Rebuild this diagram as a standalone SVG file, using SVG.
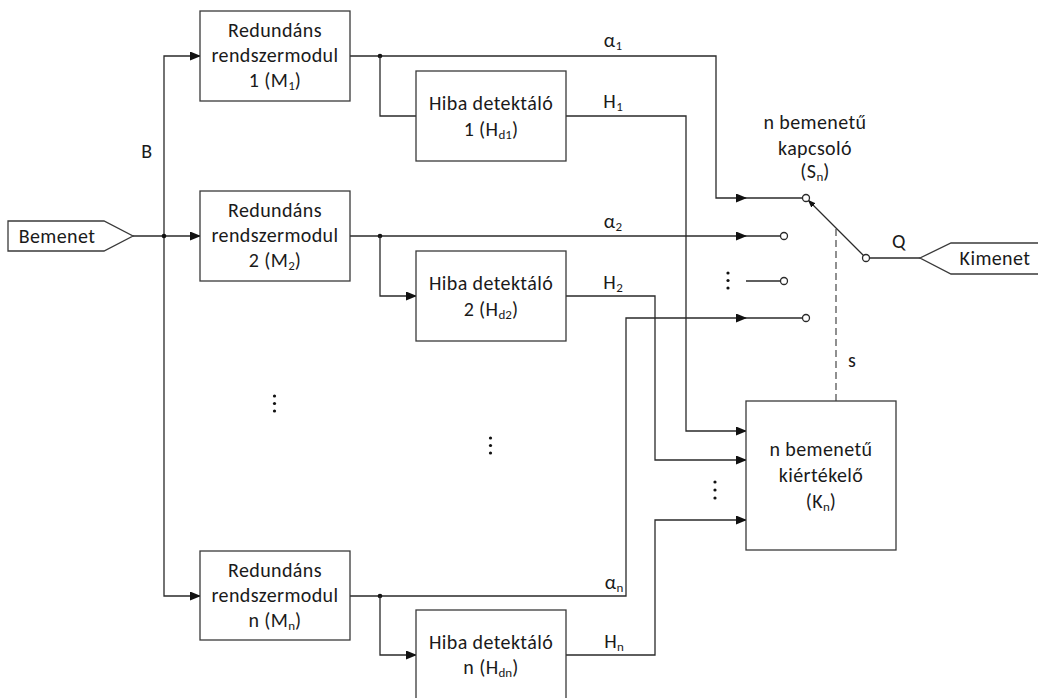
<svg xmlns="http://www.w3.org/2000/svg" width="1038" height="698" viewBox="0 0 1038 698">
  <style>
    text { font-family: Carlito, Lato, "Liberation Sans", sans-serif; font-size: 20px; letter-spacing: 0.4px; fill: #1a1a1a; }
    .c { text-anchor: middle; }
    .sub { font-size: 13px; letter-spacing: 0; }
    .box { fill: #fff; stroke: #3a3a3a; stroke-width: 1.3; }
    .wire { fill: none; stroke: #2a2a2a; stroke-width: 1.3; }
    .arrow { marker-end: url(#ah); }
    .dot { fill: #111; }
    .term { fill: #fff; stroke: #2a2a2a; stroke-width: 1.3; }
    .dash { fill: none; stroke: #555; stroke-width: 1.3; stroke-dasharray: 7 4; }
  </style>
  <defs>
    <marker id="ah" markerUnits="userSpaceOnUse" markerWidth="11" markerHeight="9" refX="10" refY="4.5" orient="auto">
      <path d="M0,0 L11,4.5 L0,9 Z" fill="#111"/>
    </marker>
    <marker id="ahs" markerUnits="userSpaceOnUse" markerWidth="8" markerHeight="6" refX="7" refY="3" orient="auto">
      <path d="M0,0 L8,3 L0,6 Z" fill="#111"/>
    </marker>
  </defs>

  <!-- connectors -->
  <g id="connectors">
    <!-- input distribution bus B -->
    <path class="wire arrow" d="M133,236 H200"/>
    <path class="wire arrow" d="M164,236 V56 H200"/>
    <path class="wire arrow" d="M164,236 V596 H200"/>
    <circle class="dot" cx="164" cy="236" r="2.3"/>

    <!-- module 1 -->
    <path class="wire arrow" d="M350,56 H716 V198 H746"/>
    <path class="wire" d="M745,198 H802.5"/>
    <circle class="dot" cx="380" cy="56" r="2.3"/>
    <path class="wire" d="M380,56 V116 H416"/>
    <path class="wire arrow" d="M566,116 H686 V431 H746"/>

    <!-- module 2 -->
    <path class="wire arrow" d="M350,236 H746"/>
    <path class="wire" d="M745,236 H780.5"/>
    <circle class="dot" cx="380" cy="236" r="2.3"/>
    <path class="wire arrow" d="M380,236 V296 H416"/>
    <path class="wire arrow" d="M566,296 H655 V460 H746"/>

    <!-- module n -->
    <path class="wire arrow" d="M350,596 H626 V318 H746"/>
    <path class="wire" d="M745,318 H802.5"/>
    <circle class="dot" cx="380" cy="596" r="2.3"/>
    <path class="wire arrow" d="M380,596 V655 H416"/>
    <path class="wire arrow" d="M566,655 H655 V520 H746"/>

    <!-- elided switch input -->
    <path class="wire" d="M746,281 H780.5"/>

    <!-- switch output -->
    <path class="wire" d="M869.5,258 H920"/>

    <!-- selector control s -->
    <path class="dash" d="M836,229 V401"/>
  </g>

  <!-- elision dots -->
  <g id="ellipses">
    <circle class="dot" cx="274.5" cy="396" r="1.6"/>
    <circle class="dot" cx="274.5" cy="403.5" r="1.6"/>
    <circle class="dot" cx="274.5" cy="411" r="1.6"/>
    <circle class="dot" cx="490.5" cy="438" r="1.6"/>
    <circle class="dot" cx="490.5" cy="445.5" r="1.6"/>
    <circle class="dot" cx="490.5" cy="453" r="1.6"/>
    <circle class="dot" cx="728" cy="273" r="1.6"/>
    <circle class="dot" cx="728" cy="280.5" r="1.6"/>
    <circle class="dot" cx="728" cy="288" r="1.6"/>
    <circle class="dot" cx="715" cy="482" r="1.6"/>
    <circle class="dot" cx="715" cy="490" r="1.6"/>
    <circle class="dot" cx="715" cy="498" r="1.6"/>
  </g>

  <!-- signal labels -->
  <g id="labels">
    <text class="c" x="147" y="158">B</text>
    <text class="c" x="613" y="47">α<tspan class="sub" dy="3">1</tspan></text>
    <text class="c" x="613" y="108">H<tspan class="sub" dy="3">1</tspan></text>
    <text class="c" x="613" y="228">α<tspan class="sub" dy="3">2</tspan></text>
    <text class="c" x="613" y="289">H<tspan class="sub" dy="3">2</tspan></text>
    <text class="c" x="614" y="589">α<tspan class="sub" dy="3">n</tspan></text>
    <text class="c" x="614" y="648">H<tspan class="sub" dy="3">n</tspan></text>
    <text class="c" x="899" y="248">Q</text>
    <text class="c" x="852" y="367">s</text>
  </g>

  <g id="input">
    <path class="box" d="M8,221 H104 L133,236 L104,251 H8 Z"/>
    <text class="c" x="57" y="243">Bemenet</text>
  </g>

  <g id="output">
    <path class="box" d="M1045,243 H951 L920,258 L951,274 H1045"/>
    <text class="c" x="995" y="265">Kimenet</text>
  </g>

  <g id="M1">
    <rect class="box" x="200" y="11" width="150" height="90"/>
    <text class="c" x="275" y="37">Redundáns</text>
    <text class="c" x="275" y="62">rendszermodul</text>
    <text class="c" x="275" y="87">1 (M<tspan class="sub" dy="3">1</tspan><tspan dy="-3">)</tspan></text>
  </g>

  <g id="M2">
    <rect class="box" x="200" y="191" width="150" height="90"/>
    <text class="c" x="275" y="217">Redundáns</text>
    <text class="c" x="275" y="242">rendszermodul</text>
    <text class="c" x="275" y="267">2 (M<tspan class="sub" dy="3">2</tspan><tspan dy="-3">)</tspan></text>
  </g>

  <g id="Mn">
    <rect class="box" x="200" y="551" width="150" height="89"/>
    <text class="c" x="275" y="577">Redundáns</text>
    <text class="c" x="275" y="602">rendszermodul</text>
    <text class="c" x="275" y="627">n (M<tspan class="sub" dy="3">n</tspan><tspan dy="-3">)</tspan></text>
  </g>

  <g id="Hd1">
    <rect class="box" x="416" y="71" width="150" height="90"/>
    <text class="c" x="491" y="110">Hiba detektáló</text>
    <text class="c" x="491" y="136">1 (H<tspan class="sub" dy="3">d1</tspan><tspan dy="-3">)</tspan></text>
  </g>

  <g id="Hd2">
    <rect class="box" x="416" y="251" width="150" height="90"/>
    <text class="c" x="491" y="290">Hiba detektáló</text>
    <text class="c" x="491" y="316">2 (H<tspan class="sub" dy="3">d2</tspan><tspan dy="-3">)</tspan></text>
  </g>

  <g id="Hdn">
    <rect class="box" x="416" y="610" width="150" height="90"/>
    <text class="c" x="491" y="649">Hiba detektáló</text>
    <text class="c" x="491" y="674">n (H<tspan class="sub" dy="3">dn</tspan><tspan dy="-3">)</tspan></text>
  </g>

  <g id="Sn">
    <text class="c" x="815" y="129">n bemenetű</text>
    <text class="c" x="815" y="155">kapcsoló</text>
    <text class="c" x="815" y="178">(S<tspan class="sub" dy="3">n</tspan><tspan dy="-3">)</tspan></text>
    <path class="wire" d="M866,258 L808.5,200.5" marker-end="url(#ahs)"/>
    <circle class="term" cx="806" cy="198" r="3.5"/>
    <circle class="term" cx="784" cy="236" r="3.5"/>
    <circle class="term" cx="784" cy="281" r="3.5"/>
    <circle class="term" cx="806" cy="318" r="3.5"/>
    <circle class="term" cx="866" cy="258" r="3.5"/>
  </g>

  <g id="Kn">
    <rect class="box" x="746" y="401" width="150" height="149"/>
    <text class="c" x="821" y="456">n bemenetű</text>
    <text class="c" x="821" y="482">kiértékelő</text>
    <text class="c" x="821" y="508">(K<tspan class="sub" dy="3">n</tspan><tspan dy="-3">)</tspan></text>
  </g>
</svg>
